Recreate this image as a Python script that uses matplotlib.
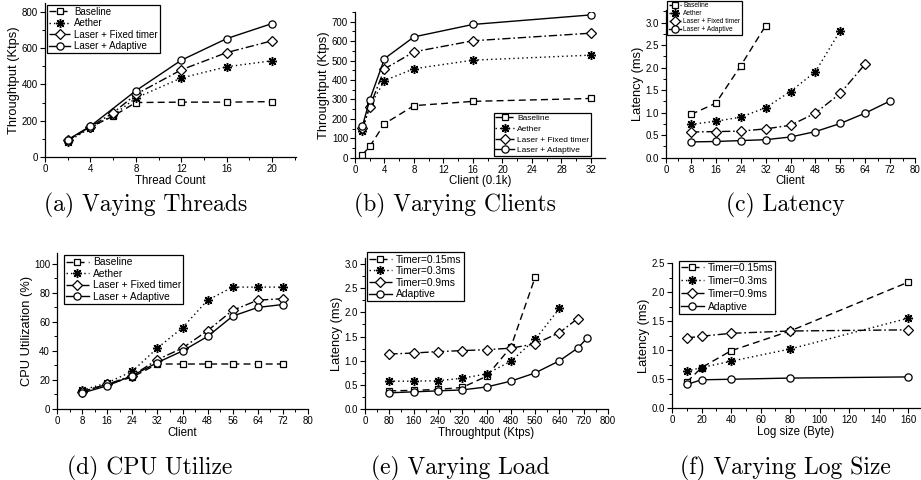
import matplotlib
matplotlib.use("Agg")
import matplotlib.pyplot as plt
from matplotlib.ticker import MultipleLocator

plt.rcParams['font.family'] = ['Liberation Sans', 'DejaVu Sans']

W, H = 921, 480

# ---------------- data ----------------
# (a) Varying threads
a_x_base = [2, 4, 6, 8, 12, 16, 20]
a_base = [90, 165, 225, 300, 302, 302, 305]
a_x_aeth = [2, 4, 6, 8, 12, 16, 20]
a_aeth = [85, 160, 230, 325, 435, 497, 530]
a_x_fix = [2, 4, 6, 8, 12, 16, 20]
a_fix = [92, 167, 243, 345, 480, 575, 640]
a_x_ada = [2, 4, 8, 12, 16, 20]
a_ada = [95, 170, 365, 533, 652, 735]

# (b) Varying clients
b_x = [1, 2, 4, 8, 16, 32]
b_base = [15, 58, 175, 268, 290, 305]
b_aeth = [140, 265, 397, 458, 502, 528]
b_fix = [152, 262, 457, 545, 602, 641]
b_ada = [162, 298, 510, 622, 686, 735]

# (c) Latency
c_x_base = [8, 16, 24, 32]
c_base = [0.96, 1.21, 2.04, 2.93]
c_x_aeth = [8, 16, 24, 32, 40, 48, 56]
c_aeth = [0.74, 0.81, 0.90, 1.11, 1.47, 1.91, 2.82]
c_x_fix = [8, 16, 24, 32, 40, 48, 56, 64]
c_fix = [0.57, 0.58, 0.59, 0.64, 0.72, 0.99, 1.43, 2.08]
c_x_ada = [8, 16, 24, 32, 40, 48, 56, 64, 72]
c_ada = [0.35, 0.36, 0.38, 0.40, 0.46, 0.58, 0.76, 0.99, 1.26]

# (d) CPU utilization
d_x = [8, 16, 24, 32, 40, 48, 56, 64, 72]
d_base = [12, 17, 22, 31, 31, 31, 31, 31, 31]
d_aeth = [13, 18, 26, 42, 56, 75, 84, 84, 84]
d_fix = [12, 17, 23, 34, 42, 54, 68, 75, 76]
d_ada = [11, 16, 23, 32, 40, 50, 64, 70, 72]

# (e) Varying load
e_x_t015 = [80, 160, 240, 320, 400, 480, 560]
e_t015 = [0.38, 0.39, 0.41, 0.45, 0.68, 1.28, 2.72]
e_x_t03 = [80, 160, 240, 320, 400, 480, 560, 640]
e_t03 = [0.58, 0.58, 0.59, 0.64, 0.73, 0.99, 1.44, 2.08]
e_x_t09 = [80, 160, 240, 320, 400, 480, 560, 640, 700]
e_t09 = [1.14, 1.16, 1.19, 1.21, 1.23, 1.26, 1.35, 1.58, 1.87]
e_x_ada = [80, 160, 240, 320, 400, 480, 560, 640, 700, 730]
e_ada = [0.34, 0.36, 0.38, 0.40, 0.46, 0.58, 0.75, 1.00, 1.26, 1.46]

# (f) Varying log size
f_x = [10, 20, 40, 80, 160]
f_t015 = [0.45, 0.70, 0.99, 1.33, 2.17]
f_t03 = [0.64, 0.70, 0.81, 1.02, 1.55]
f_t09 = [1.21, 1.24, 1.29, 1.33, 1.35]
f_ada = [0.41, 0.49, 0.50, 0.52, 0.54]

labels_sys = ["Baseline", "Aether", "Laser + Fixed timer", "Laser + Adaptive"]
labels_timer = ["Timer=0.15ms", "Timer=0.3ms", "Timer=0.9ms", "Adaptive"]

captions = ["(a) Vaying Threads", "(b) Varying Clients", "(c) Latency",
            "(d) CPU Utilize", "(e) Varying Load", "(f) Varying Log Size"]

# ---------------- styles ----------------
STY = [
    dict(ls=(0, (5, 3)), marker='s', ms=5),
    dict(ls=(0, (1, 2.2)), marker=(8, 2, 0), ms=6.5, mew=1.05),
    dict(ls=(0, (6, 2, 1.2, 2)), marker='D', ms=4.6),
    dict(ls='-', marker='o', ms=5.2),
]

fig = plt.figure(figsize=(W / 100, H / 100), dpi=100)


def make_ax(l, r, t, b):
    return fig.add_axes([l / W, 1 - b / H, (r - l) / W, (b - t) / H])


def style_ax(ax, xlim, ylim, xmaj, xmin, ymaj, ymin, xlabel, ylabel, yfmt=None):
    ax.set_xlim(*xlim)
    ax.set_ylim(*ylim)
    ax.xaxis.set_major_locator(MultipleLocator(xmaj))
    ax.xaxis.set_minor_locator(MultipleLocator(xmin))
    ax.yaxis.set_major_locator(MultipleLocator(ymaj))
    ax.yaxis.set_minor_locator(MultipleLocator(ymin))
    if yfmt:
        ax.yaxis.set_major_formatter(yfmt)
    for s in ['top', 'right']:
        ax.spines[s].set_visible(False)
    for s in ['left', 'bottom']:
        ax.spines[s].set_linewidth(0.9)
    ax.tick_params(which='major', direction='out', length=3.5, width=0.8,
                   labelsize=7, pad=1.5)
    ax.tick_params(which='minor', direction='out', length=2, width=0.7)
    ax.set_xlabel(xlabel, fontsize=8.3, labelpad=0.5)
    ax.set_ylabel(ylabel, fontsize=9.3, labelpad=1)


def plot_series(ax, xs, ys, labels):
    for x, y, lab, st in zip(xs, ys, labels, STY):
        st = dict(st)
        mew = st.pop('mew', 0.9)
        ax.plot(x, y, color='black', lw=1.0, mfc='white', mec='black',
                mew=mew, label=lab, **st)


def legend(ax, loc, fs, anchor=None, hl=2.2, ls=0.15):
    kw = {}
    if anchor is not None:
        kw['bbox_to_anchor'] = anchor
    lg = ax.legend(loc=loc, fontsize=fs, frameon=True, fancybox=False,
                   edgecolor='black', framealpha=1, borderpad=0.2,
                   labelspacing=ls, handlelength=hl, handletextpad=0.4,
                   borderaxespad=0.2, **kw)
    lg.get_frame().set_linewidth(0.9)
    return lg


fmt1 = matplotlib.ticker.FormatStrFormatter('%.1f')

# (a)
ax = make_ax(45, 296, 3, 157)
plot_series(ax, [a_x_base, a_x_aeth, a_x_fix, a_x_ada],
            [a_base, a_aeth, a_fix, a_ada], labels_sys)
style_ax(ax, (0, 22.1), (0, 848), 4, 2, 200, 100, "Thread Count", "Throughtput (Ktps)")
legend(ax, 'upper left', 7, anchor=(0.0, 1.0))

# (b)
ax = make_ax(355, 605, 12, 157.7)
plot_series(ax, [b_x] * 4, [b_base, b_aeth, b_fix, b_ada], labels_sys)
style_ax(ax, (0, 33.9), (0, 750), 4, 2, 100, 50, "Client (0.1k)", "Throughtput (Ktps)")
legend(ax, 'lower right', 6, anchor=(0.95, 0.0), ls=0.35)

# (c)
ax = make_ax(666, 915, 10, 157.7)
plot_series(ax, [c_x_base, c_x_aeth, c_x_fix, c_x_ada],
            [c_base, c_aeth, c_fix, c_ada], labels_sys)
style_ax(ax, (0, 80), (0, 3.28), 8, 4, 0.5, 0.25, "Client", "Latency (ms)", fmt1)
legend(ax, 'upper left', 4.8, anchor=(0.0, 1.07), hl=1.8)

# (d)
ax = make_ax(57, 308, 253, 409)
plot_series(ax, [d_x] * 4, [d_base, d_aeth, d_fix, d_ada], labels_sys)
style_ax(ax, (0, 80), (0, 107.5), 8, 4, 20, 10, "Client", "CPU Utilization (%)")
legend(ax, 'upper left', 7.4, anchor=(0.02, 1.0))

# (e)
ax = make_ax(365, 608, 258, 409.3)
plot_series(ax, [e_x_t015, e_x_t03, e_x_t09, e_x_ada],
            [e_t015, e_t03, e_t09, e_ada], labels_timer)
style_ax(ax, (0, 800), (0, 3.12), 80, 40, 0.5, 0.25, "Throughtput (Ktps)", "Latency (ms)", fmt1)
legend(ax, 'upper left', 7.4, anchor=(0.0, 1.05))

# (f)
ax = make_ax(672, 920, 263, 408.3)
plot_series(ax, [f_x] * 4, [f_t015, f_t03, f_t09, f_ada], labels_timer)
style_ax(ax, (0, 168), (0, 2.5), 20, 10, 0.5, 0.25, "Log size (Byte)", "Latency (ms)", fmt1)
legend(ax, 'upper left', 7.4, anchor=(0.02, 1.03), ls=0.3)

# captions
cap_pos = [(146, 205), (455, 205), (785, 205), (150, 468), (460, 468), (785, 468)]
for txt, (cx, cy) in zip(captions, cap_pos):
    fig.text(cx / W, 1 - cy / H, txt, ha='center', va='center',
             fontsize=17, family=['cmr10', 'DejaVu Serif'])

fig.savefig("out.png", dpi=100)
